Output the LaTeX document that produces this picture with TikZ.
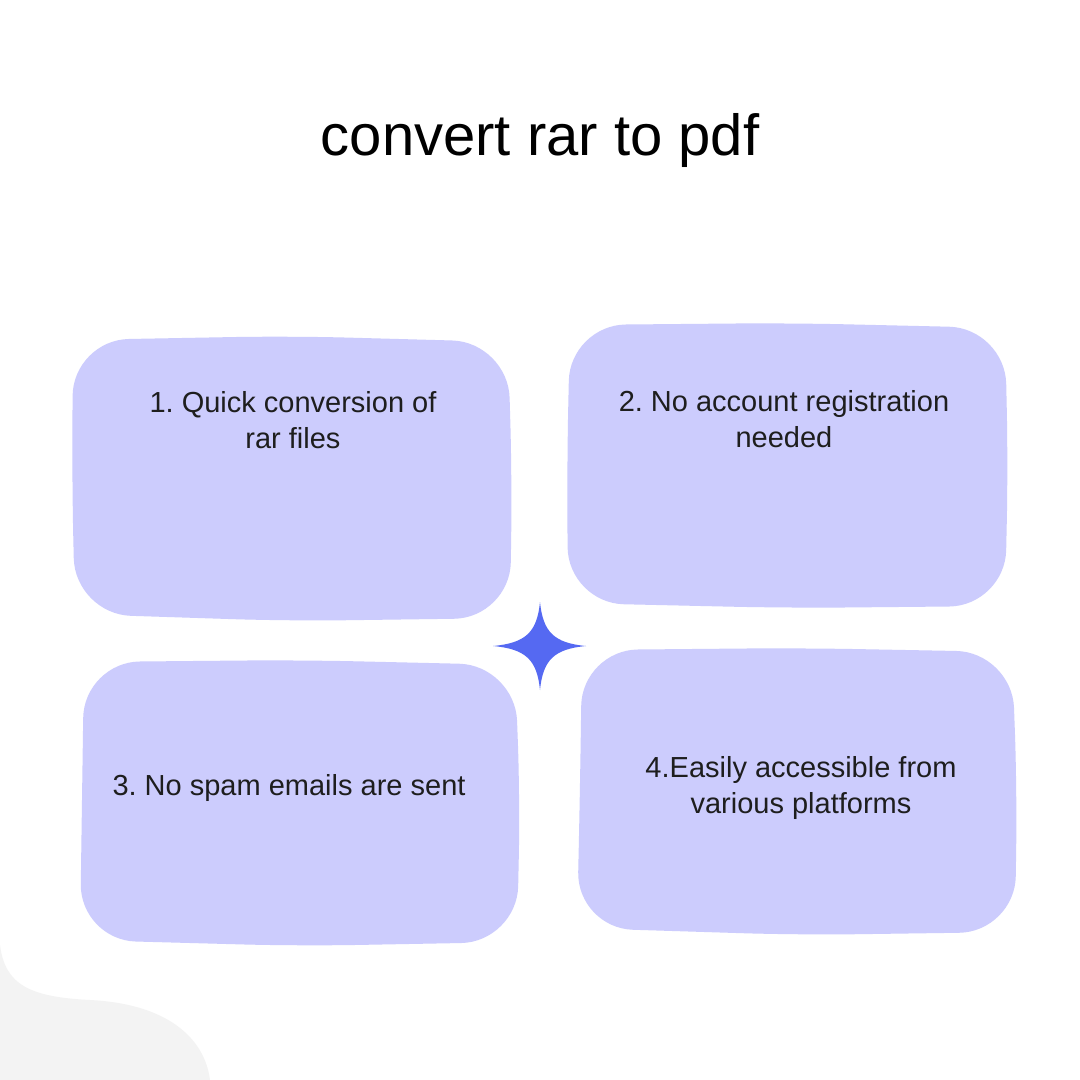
\documentclass[tikz,border=0pt]{standalone}
\usepackage{fontspec}
\setmainfont{Liberation Sans}
\definecolor{boxfill}{HTML}{CCCCFD}
\definecolor{starblue}{HTML}{5569F2}
\definecolor{bggray}{HTML}{F3F3F3}
\definecolor{txt}{HTML}{1E1E1E}
\begin{document}
\frenchspacing
\begin{tikzpicture}[x=1pt,y=-1pt,
  blob/.style={fill=boxfill,rounded corners=56pt},
  label/.style={align=center,text=txt,font=\fontsize{29}{36}\selectfont,inner sep=0pt},
  titletext/.style={text=black,font=\fontsize{58}{62}\selectfont,inner sep=0pt}]
\useasboundingbox (0,0) rectangle (1080,1080);
\fill[white] (0,0) rectangle (1080,1080);
% background gray wave
\fill[bggray] (0,945) .. controls (5,985) and (30,997) .. (90,1000)
  .. controls (170,1004) and (205,1040) .. (210,1080) -- (0,1080) -- cycle;
% title
\node[titletext] (title) at (540,140) {convert rar to pdf};
% boxes
\fill[blob] (290,336) -- (508,342) -- (512,480) -- (510,618) -- (290,621) -- (75,614) -- (72,480) -- (73,340) -- cycle;
\fill[blob] (790,323) -- (1005,328) -- (1008,465) -- (1005,606) -- (790,608) -- (568,603) -- (567,465) -- (570,325) -- cycle;
\fill[blob] (300,660) -- (515,665) -- (520,800) -- (517,942) -- (300,946) -- (80,940) -- (82,800) -- (84,662) -- cycle;
\fill[blob] (800,648) -- (1012,652) -- (1017,790) -- (1015,932) -- (800,935) -- (577,928) -- (580,790) -- (582,650) -- cycle;
% star
\fill[starblue] (540,602) .. controls (543,632) and (554,643) .. (586,646)
  .. controls (554,649) and (543,660) .. (540,690)
  .. controls (537,660) and (526,649) .. (493,646)
  .. controls (526,643) and (537,632) .. (540,602) -- cycle;
% texts
\node[label] (t1) at (293,420) {1. Quick conversion of\\rar files};
\node[label] (t2) at (784,419) {2. No account registration\\needed};
\node[label] (t3) at (289,788) {3. No spam emails are sent};
\node[label] (t4) at (801,788) {4.Easily accessible from\\various platforms};
\end{tikzpicture}
\end{document}
